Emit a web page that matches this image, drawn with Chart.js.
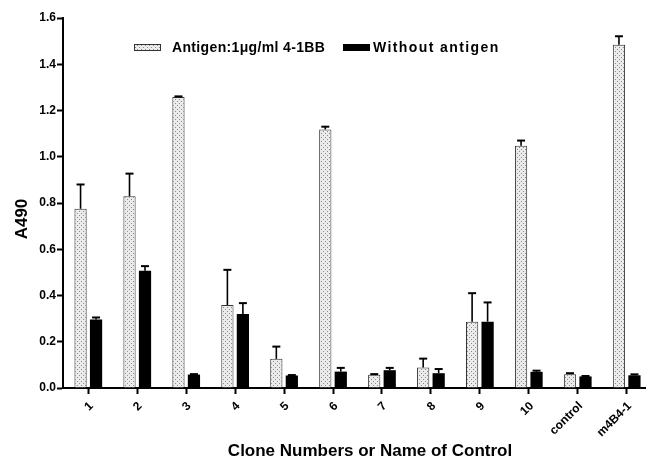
<!DOCTYPE html>
<html>
<head>
<meta charset="utf-8">
<script src="https://cdn.jsdelivr.net/npm/chart.js@4.4.1/dist/chart.umd.min.js"></script>
<style>
html,body{margin:0;padding:0;background:#fff;}
canvas{display:block;}
</style>
</head>
<body>
<canvas id="c" width="647" height="460"></canvas>
<script>
const categories = ['1','2','3','4','5','6','7','8','9','10','control','m4B4-1'];
const withAntigen = [0.775, 0.829, 1.258, 0.359, 0.126, 1.118, 0.057, 0.089, 0.287, 1.048, 0.060, 1.484];
const withAntigenErr = [0.105, 0.098, 0.003, 0.152, 0.053, 0.012, 0.003, 0.038, 0.123, 0.022, 0.004, 0.037];
const withoutAntigen = [0.296, 0.507, 0.058, 0.320, 0.054, 0.071, 0.077, 0.064, 0.287, 0.070, 0.050, 0.055];
const withoutAntigenErr = [0.009, 0.020, 0.002, 0.047, 0.002, 0.016, 0.010, 0.018, 0.083, 0.005, 0.002, 0.004];
const seriesNames = ['Antigen:1\u03bcg/ml 4-1BB', 'Without antigen'];
const yTicks = [0.0, 0.2, 0.4, 0.6, 0.8, 1.0, 1.2, 1.4, 1.6];
const xTitle = 'Clone Numbers or Name of Control';
const yTitle = 'A490';

const FONT = '"Liberation Sans", Arial, Helvetica, sans-serif';

function makePattern() {
  const p = document.createElement('canvas');
  p.width = 4; p.height = 4;
  const g = p.getContext('2d');
  g.fillStyle = '#ebebeb';
  g.fillRect(0, 0, 4, 4);
  g.fillStyle = '#8c8c8c';
  g.fillRect(1, 1, 1, 1);
  g.fillRect(3, 3, 1, 1);
  return g.createPattern(p, 'repeat');
}
const ctx0 = document.getElementById('c').getContext('2d');
const dotted = makePattern();

const toPts = arr => arr.map((v, i) => ({x: i, y: v}));
const errors = [withAntigenErr, withoutAntigenErr];

const errorBarPlugin = {
  id: 'errorBars',
  afterDatasetsDraw(chart) {
    const ctx = chart.ctx;
    const ys = chart.scales.y;
    chart.data.datasets.forEach((ds, di) => {
      const meta = chart.getDatasetMeta(di);
      meta.data.forEach((bar, i) => {
        const v = ds.data[i].y;
        const e = errors[di][i];
        const yTop = ys.getPixelForValue(v + e);
        const yBar = ys.getPixelForValue(v);
        ctx.save();
        ctx.strokeStyle = '#000';
        ctx.lineWidth = 1.6;
        ctx.beginPath();
        ctx.moveTo(bar.x, yBar);
        ctx.lineTo(bar.x, yTop);
        ctx.stroke();
        ctx.lineWidth = 2;
        ctx.beginPath();
        ctx.moveTo(bar.x - 4, yTop);
        ctx.lineTo(bar.x + 4, yTop);
        ctx.stroke();
        ctx.restore();
      });
    });
  }
};

const annotPlugin = {
  id: 'annot',
  afterDraw(chart) {
    const ctx = chart.ctx;
    const ca = chart.chartArea;
    ctx.save();
    ctx.fillStyle = '#000';
    // x title
    ctx.font = 'bold 17px ' + FONT;
    ctx.textAlign = 'center';
    ctx.textBaseline = 'alphabetic';
    ctx.fillText(xTitle, (ca.left + ca.right) / 2 + 16, 456);
    // y title
    ctx.save();
    ctx.translate(27, (ca.top + ca.bottom) / 2 + 16);
    ctx.rotate(-Math.PI / 2);
    ctx.textAlign = 'center';
    ctx.textBaseline = 'alphabetic';
    ctx.fillText(yTitle, 0, 0);
    ctx.restore();
    // legend
    const ly = ca.top + 26;
    ctx.fillStyle = dotted;
    ctx.fillRect(134, ly, 27, 7);
    ctx.strokeStyle = '#333';
    ctx.lineWidth = 1;
    ctx.strokeRect(134.5, ly + 0.5, 26, 6);
    ctx.fillStyle = '#000';
    ctx.fillRect(343, ly, 27, 7);
    ctx.font = 'bold 14px ' + FONT;
    ctx.textAlign = 'left';
    try { ctx.letterSpacing = '0.35px'; } catch (e) {}
    ctx.fillText(seriesNames[0], 172, ly + 7.5);
    try { ctx.letterSpacing = '1.4px'; } catch (e) {}
    ctx.fillText(seriesNames[1], 373, ly + 7.5);
    try { ctx.letterSpacing = '0px'; } catch (e) {}
    ctx.restore();
  }
};

new Chart(ctx0, {
  type: 'bar',
  data: {
    datasets: [
      {
        label: seriesNames[0],
        data: toPts(withAntigen),
        backgroundColor: dotted,
        borderColor: '#333',
        borderWidth: 1,
        categoryPercentage: 0.633,
        barPercentage: 0.79
      },
      {
        label: seriesNames[1],
        data: toPts(withoutAntigen),
        backgroundColor: '#000',
        borderWidth: 0,
        categoryPercentage: 0.633,
        barPercentage: 0.79
      }
    ]
  },
  options: {
    responsive: false,
    animation: false,
    devicePixelRatio: 1,
    layout: { padding: { top: 18, right: 2, left: 0, bottom: 0 } },
    plugins: {
      legend: { display: false },
      tooltip: { enabled: false },
      title: { display: false }
    },
    scales: {
      x: {
        type: 'linear',
        min: -0.517,
        max: 11.374,
        offset: false,
        afterFit(scale) { scale.height = 72; },
        afterBuildTicks(scale) {
          scale.ticks = categories.map((c, i) => ({value: i}));
        },
        border: { display: true, color: '#000', width: 2 },
        grid: { display: true, offset: false, drawOnChartArea: false, drawTicks: true, tickLength: 6, tickWidth: 2, tickColor: '#000' },
        ticks: {
          autoSkip: false,
          includeBounds: false,
          stepSize: 1,
          minRotation: 45,
          maxRotation: 45,
          padding: 5,
          labelOffset: 3,
          color: '#000',
          font: { family: FONT, size: 12, weight: 'bold' },
          callback(value) { return Number.isInteger(value) ? categories[value] : ''; }
        }
      },
      y: {
        min: 0,
        max: 1.6,
        afterFit(scale) { scale.width = 63; },
        afterBuildTicks(scale) {
          scale.ticks = yTicks.map(v => ({value: v}));
        },
        border: { display: true, color: '#000', width: 2 },
        grid: { display: true, offset: false, drawOnChartArea: false, drawTicks: true, tickLength: 6, tickWidth: 2, tickColor: '#000' },
        ticks: {
          padding: 1,
          color: '#000',
          font: { family: FONT, size: 12, weight: 'bold' },
          callback(value) { return Number(value).toFixed(1); }
        }
      }
    }
  },
  plugins: [errorBarPlugin, annotPlugin]
});
</script>
</body>
</html>
